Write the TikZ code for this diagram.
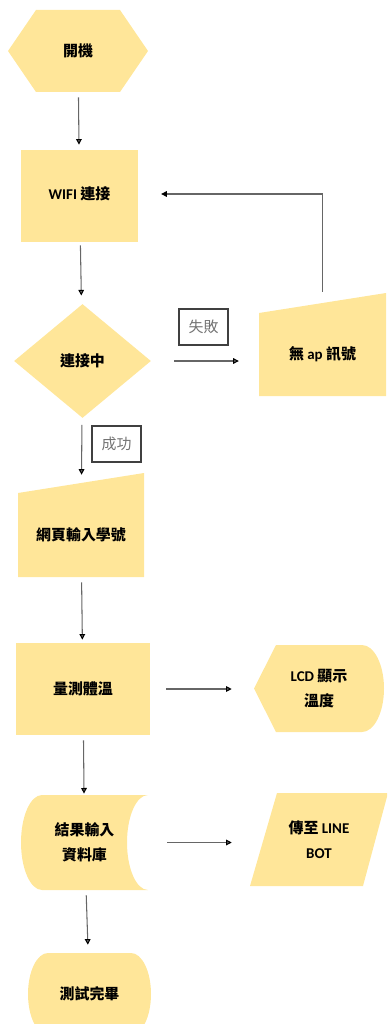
\documentclass[tikz,border=0pt]{standalone}
\usepackage{fontspec}
\setmainfont{Carlito}
\newfontfamily\cjk{Noto Sans CJK TC}
\newcommand\zh[1]{{\cjk #1}}
\usepackage{tikz}
\usetikzlibrary{arrows.meta, positioning, shapes.geometric}
\definecolor{lemon}{HTML}{FFE699}

\tikzset{
	blk/.style={inner sep=0pt, align=center, font=\bfseries\fontsize{8.5}{14}\selectfont},
	tag/.style={draw=black!75, line width=0.6pt, inner sep=0pt, minimum width=0.98cm, minimum height=0.72cm, text=black!55, font=\fontsize{8.5}{10}\selectfont},
	flow/.style={color=black!60, line width=0.6pt, -{Triangle[length=3.2pt,width=3.2pt,color=black]}, shorten <=2.8pt, shorten >=1.7pt},
}

\begin{document}
\begin{tikzpicture}[x=0.02cm, y=-0.02cm]
	\useasboundingbox (0,0) rectangle (387,1024);
	\clip (0,0) rectangle (387,1024);
	% shapes
	\fill[lemon] (8,51) -- (36,10) -- (120,10) -- (148,51) -- (120,92) -- (36,92) -- cycle;
	\fill[lemon] (21,150) rectangle (138,242);
	\fill[lemon] (259,313) -- (386,293) -- (386,396) -- (259,396) -- cycle;
	\fill[lemon] (18,493) -- (144,473) -- (144,577) -- (18,577) -- cycle;
	\fill[lemon] (16,643) rectangle (150,735);
	\fill[lemon] (254,688.5) -- (276,645) -- (362,645) .. controls (374.1,645) and (384,664.5) .. (384,688.5)
		.. controls (384,712.5) and (374.1,732) .. (362,732) -- (276,732) -- cycle;
	\fill[lemon] (42,795) -- (148,795) .. controls (136.4,795) and (127,816.3) .. (127,842.5)
		.. controls (127,868.7) and (136.4,890) .. (148,890) -- (42,890)
		.. controls (30.4,890) and (21,868.7) .. (21,842.5) .. controls (21,816.3) and (30.4,795) .. (42,795) -- cycle;
	\fill[lemon] (277,793) -- (388,793) -- (363,886) -- (250,886) -- cycle;
	\fill[lemon] (48,953) -- (131,953) .. controls (142,953) and (151,971.4) .. (151,994)
		.. controls (151,1016.6) and (142,1035) .. (131,1035) -- (48,1035)
		.. controls (37,1035) and (28,1016.6) .. (28,994) .. controls (28,971.4) and (37,953) .. (48,953) -- cycle;

	% nodes
	\node[blk, minimum width=2.8cm, minimum height=1.64cm] (start) at (78,51) {\zh{開機}};
	\node[blk, minimum width=2.34cm, minimum height=1.84cm] (wifi) at (79.5,194) {WIFI \zh{連接}};
	\node[blk, diamond, fill=lemon, minimum width=2.74cm, minimum height=2.28cm] (conn) at (82.5,361) {\zh{連接中}};
	\node[blk, minimum width=2.54cm, minimum height=1.66cm] (noap) at (322.5,354.5) {\zh{無} ap \zh{訊號}};
	\node[blk, minimum width=2.52cm, minimum height=1.68cm] (web) at (81,535) {\zh{網頁輸入學號}};
	\node[blk, minimum width=2.68cm, minimum height=1.84cm] (meas) at (83,689) {\zh{量測體溫}};
	\node[blk, minimum width=2.6cm, minimum height=1.74cm] (lcd) at (319,688.5) {LCD \zh{顯示}\\\zh{溫度}};
	\node[blk, minimum width=2.54cm, minimum height=1.9cm] (db) at (84.5,842.5) {\zh{結果輸入}\\\zh{資料庫}};
	\node[blk, minimum width=2.76cm, minimum height=1.86cm] (bot) at (319,839.5) {\zh{傳至} LINE\\BOT};
	\node[blk, minimum width=2.46cm, minimum height=1.64cm] (fin) at (89.5,994) {\zh{測試完畢}};
	\node[tag] (fail) at (203.5,327) {\zh{失敗}};
	\node[tag] (ok) at (116.5,444) {\zh{成功}};

	% connectors
	\path[flow]
	(start) edge (wifi)
	(wifi) edge[shorten >=5.1pt] (conn)
	(conn.east) edge[shorten <=13pt, shorten >=11.3pt] (conn.east -| noap.west)
	(conn) edge[shorten <=4pt, shorten >=10.2pt] (web)
	(web) edge (meas)
	(meas.east) edge[shorten <=9pt, shorten >=12.5pt] (meas.east -| lcd.west)
	(meas) edge[shorten >=0.6pt] (db)
	(db.east) edge[shorten <=10.8pt, shorten >=10.2pt] (db.east -| bot.west)
	(db) edge[shorten >=4.5pt] (fin)
	;
	\draw[flow, shorten <=12pt, shorten >=13pt] (noap.north) |- (wifi.east);
\end{tikzpicture}
\end{document}
